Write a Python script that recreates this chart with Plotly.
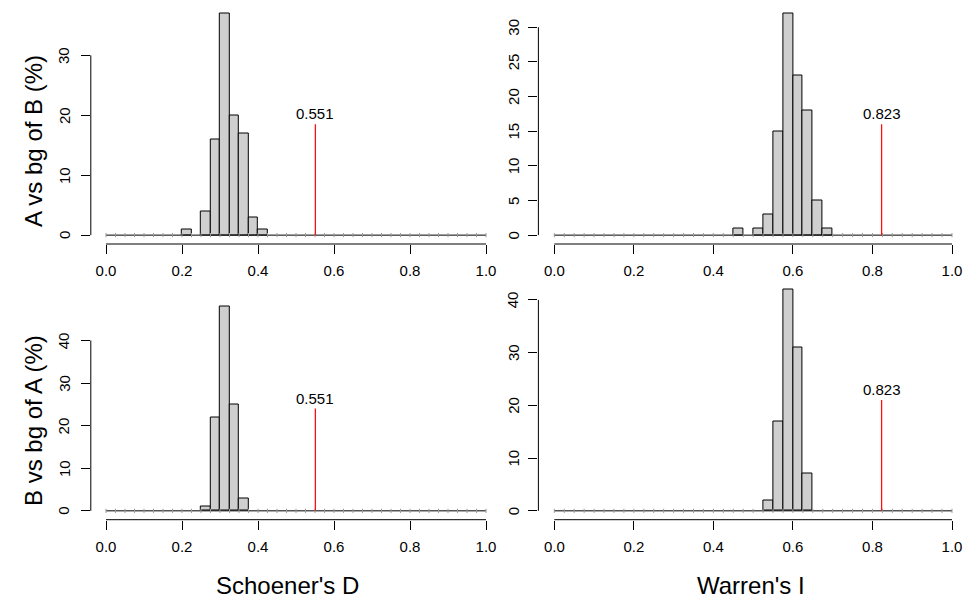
import plotly.graph_objects as go

# ---------------- data ----------------
BIN_WIDTH = 0.025
N_BINS = 40  # breaks 0..1 every 0.025

# Schoener's D, A vs bg of B
d_ab_bins = [0.200, 0.250, 0.275, 0.300, 0.325, 0.350, 0.375, 0.400]
d_ab_counts = [1, 4, 16, 37, 20, 17, 3, 1]
d_ab_obs = 0.551

# Warren's I, A vs bg of B
i_ab_bins = [0.450, 0.500, 0.525, 0.550, 0.575, 0.600, 0.625, 0.650, 0.675]
i_ab_counts = [1, 1, 3, 15, 32, 23, 18, 5, 1]
i_ab_obs = 0.823

# Schoener's D, B vs bg of A
d_ba_bins = [0.250, 0.275, 0.300, 0.325, 0.350]
d_ba_counts = [1, 22, 48, 25, 3]
d_ba_obs = 0.551

# Warren's I, B vs bg of A
i_ba_bins = [0.525, 0.550, 0.575, 0.600, 0.625]
i_ba_counts = [2, 17, 42, 31, 7]
i_ba_obs = 0.823

y_limits = [37, 32, 52, 42]        # upper ylim of each panel
y_dticks = [10, 5, 10, 10]
y_last_tick = [30, 30, 40, 40]
x_ticks = [0.0, 0.2, 0.4, 0.6, 0.8, 1.0]
row_titles = ["A vs bg of B (%)", "B vs bg of A (%)"]
col_titles = ["Schoener's D", "Warren's I"]

# ---------------- layout geometry ----------------
W, H = 966, 600
FONT = "Liberation Sans, Arial, Helvetica, sans-serif"

def px_x(p):
    return p / W

def px_y(p):
    return 1 - p / H

col_px = [(90.8, 501.2), (538.4, 966.0)]
row_px = [(4.5, 244.0), (280.5, 519.7)]
x_ranges = [[-0.04, 1.04], [-0.04, 1.0352]]
ylab_shift = [-27, -25]
panels = [
    (d_ab_bins, d_ab_counts, d_ab_obs, 0, 0),
    (i_ab_bins, i_ab_counts, i_ab_obs, 0, 1),
    (d_ba_bins, d_ba_counts, d_ba_obs, 1, 0),
    (i_ba_bins, i_ba_counts, i_ba_obs, 1, 1),
]

fig = go.Figure()
layout = dict(
    width=W, height=H,
    margin=dict(l=0, r=0, t=0, b=0, autoexpand=False),
    paper_bgcolor="white", plot_bgcolor="white",
    showlegend=False,
    font=dict(family=FONT, size=15, color="black"),
    bargap=0,
)
shapes = []
annotations = []

edges = [i * BIN_WIDTH for i in range(N_BINS + 1)]

for k, (bins, counts, obs, r, c) in enumerate(panels):
    idx = "" if k == 0 else str(k + 1)
    xa, ya = "x" + idx, "y" + idx
    U = y_limits[k]

    # baseline (zero-height bins) with small edge marks
    fig.add_trace(go.Scatter(
        x=[0, 1], y=[0, 0], mode="lines",
        line=dict(color="black", width=1), xaxis=xa, yaxis=ya, hoverinfo="skip"))
    fig.add_trace(go.Scatter(
        x=edges, y=[0] * len(edges), mode="markers",
        marker=dict(symbol="line-ns", size=3, line=dict(color="#999999", width=1)),
        xaxis=xa, yaxis=ya, hoverinfo="skip"))

    # histogram bars
    fig.add_trace(go.Bar(
        x=[b + BIN_WIDTH / 2 for b in bins], y=counts, width=BIN_WIDTH,
        marker=dict(color="#cfcfcf", line=dict(color="black", width=1)),
        xaxis=xa, yaxis=ya))

    # observed value
    fig.add_trace(go.Scatter(
        x=[obs, obs], y=[0, 0.5 * max(counts)], mode="lines",
        line=dict(color="#ff1010", width=1.3), xaxis=xa, yaxis=ya, hoverinfo="skip"))
    annotations.append(dict(
        x=obs, y=0.55 * max(counts), xref=xa, yref=ya, text=f"{obs:.3f}",
        showarrow=False, font=dict(size=15, family=FONT), xanchor="center", yanchor="middle"))

    x0, x1 = col_px[c]
    y0, y1 = row_px[r]
    yticks = list(range(0, y_last_tick[k] + 1, y_dticks[k]))
    layout["xaxis" + idx] = dict(
        domain=[px_x(x0), min(1.0, px_x(x1))], range=x_ranges[c], anchor=ya, automargin=False,
        tickvals=x_ticks, ticktext=[f"{v:.1f}" for v in x_ticks],
        ticks="outside", ticklen=9, tickwidth=1, tickcolor="black",
        showline=False, showgrid=False, zeroline=False,
        tickfont=dict(size=15), ticklabelstandoff=4)
    layout["yaxis" + idx] = dict(
        domain=[px_y(y1), px_y(y0)], range=[-0.04 * U, 1.04 * U], anchor=xa,
        automargin=False, tickvals=yticks, showticklabels=False,
        ticks="outside", ticklen=9, tickwidth=1, tickcolor="black",
        showline=False, showgrid=False, zeroline=False)
    # R-style rotated y tick labels
    for v in yticks:
        annotations.append(dict(
            x=0, xref=xa + " domain", y=v, yref=ya, xshift=ylab_shift[c],
            text=str(v), textangle=-90, showarrow=False,
            xanchor="center", yanchor="middle", font=dict(size=15, family=FONT)))

    # R-style axis lines spanning only first..last tick
    shapes.append(dict(type="line", xref=xa, yref=ya + " domain",
                       x0=0, x1=1, y0=0, y1=0, line=dict(color="black", width=1)))
    shapes.append(dict(type="line", xref=xa + " domain", yref=ya,
                       x0=0, x1=0, y0=0, y1=y_last_tick[k], line=dict(color="black", width=1)))

# row titles
for r, (t, ypx) in enumerate(zip(row_titles, [141, 421])):
    annotations.append(dict(x=px_x(33), y=px_y(ypx), xref="paper", yref="paper",
                            xanchor="center", yanchor="middle",
                            text=t, textangle=-90, showarrow=False,
                            font=dict(size=24, family=FONT)))
# column titles
for c, (t, xpx) in enumerate(zip(col_titles, [287, 751])):
    annotations.append(dict(x=px_x(xpx), y=px_y(585), xref="paper", yref="paper",
                            xanchor="center", yanchor="middle",
                            text=t, showarrow=False, font=dict(size=24, family=FONT)))

layout["shapes"] = shapes
layout["annotations"] = annotations
fig.update_layout(**layout)
fig.write_html(
    "out.html",
    config={"displayModeBar": False},
    post_script="document.body.style.margin='0px';document.body.style.overflow='hidden';",
)
